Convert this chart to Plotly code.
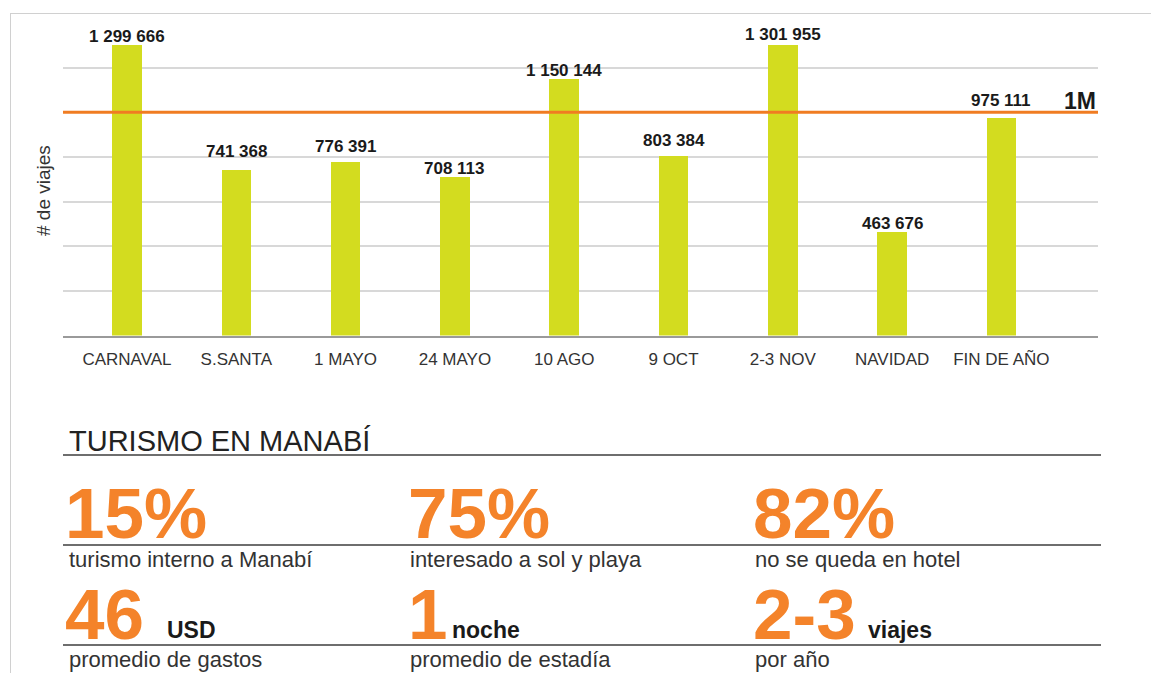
import plotly.graph_objects as go

# ---- data -------------------------------------------------------------
holidays = ["CARNAVAL", "S.SANTA", "1 MAYO", "24 MAYO", "10 AGO",
            "9 OCT", "2-3 NOV", "NAVIDAD", "FIN DE AÑO"]
trips = [1299666, 741368, 776391, 708113, 1150144,
         803384, 1301955, 463676, 975111]
reference_level = 1_000_000
reference_label = "1M"
grid_values = [200_000, 400_000, 600_000, 800_000, 1_200_000]
y_title = "# de viajes"

section_title = "TURISMO EN MANABÍ"
stat_values = ["15%", "75%", "82%", "46", "1", "2-3"]
stat_units = ["", "", "", "USD", "noche", "viajes"]
stat_captions = ["turismo interno a Manabí", "interesado a sol y playa",
                 "no se queda en hotel", "promedio de gastos",
                 "promedio de estadía", "por año"]

# ---- styling ----------------------------------------------------------
W, H = 1151, 673
BAR_COLOR = "#d3dc1f"
ORANGE_LINE = "#f07c22"
ORANGE_TEXT = "#f4832a"
FONT = "Liberation Sans, Arial, sans-serif"

# gap (px) between each value label and the top of its bar
label_gap_px = [3, 13, 10, 3, 2, 10, 4, 3, 11]


def px_x(px):
    return px / W


def px_y(py):
    return 1 - py / H


# plot area in pixels
PLOT_L, PLOT_R = 63, 1098
PLOT_T, PLOT_B = 20, 335.5
VALUE_PER_PX = 4480
first_center, step = 127, 109.3

fig = go.Figure()

fig.add_trace(go.Bar(
    x=holidays, y=trips, width=0.27,
    marker=dict(color=BAR_COLOR, line=dict(width=0)),
    hoverinfo="x+y", showlegend=False,
))

annotations = []
for name, val, gap in zip(holidays, trips, label_gap_px):
    annotations.append(dict(
        x=name, y=val, xref="x", yref="y",
        text=f"{val:,}".replace(",", " "),
        showarrow=False, yanchor="middle", xanchor="center",
        yshift=gap + 6,
        font=dict(family=FONT, size=17, color="#1a1a1a", weight="bold"),
    ))

# reference line label
annotations.append(dict(
    x=1, xref="x domain", y=reference_level, yref="y",
    text=reference_label, showarrow=False,
    xanchor="right", yanchor="middle", yshift=11.5,
    font=dict(family=FONT, size=23, color="#1a1a1a", weight="bold"),
))

# y axis title
annotations.append(dict(
    x=px_x(43), y=px_y(191), xref="paper", yref="paper",
    text=y_title, textangle=-90, showarrow=False,
    xanchor="center", yanchor="middle",
    font=dict(family=FONT, size=19, color="#333333"),
))

# ---- summary section --------------------------------------------------
annotations.append(dict(
    x=px_x(66.5), y=px_y(441), xref="paper", yref="paper",
    text=section_title, showarrow=False, xanchor="left", yanchor="middle",
    font=dict(family=FONT, size=29, color="#222222"),
))

big_x = [64, 407, 752]
caption_x = [67.5, 408.5, 753.5]
big_y = [513, 614]
caption_y = [559, 659]
unit_x = [165, 450, 866]
unit_y = [630, 630]

for i, (val, unit, cap) in enumerate(zip(stat_values, stat_units, stat_captions)):
    col, row = i % 3, i // 3
    # the box is trimmed to the digits' height so it does not spill over
    # the rule and caption underneath
    annotations.append(dict(
        x=px_x(big_x[col]), y=px_y(big_y[row]), xref="paper", yref="paper",
        text=val, showarrow=False, xanchor="left", yanchor="middle",
        borderpad=0, height=58, valign="middle",
        font=dict(family=FONT, size=71, color=ORANGE_TEXT, weight="bold"),
    ))
    if unit:
        annotations.append(dict(
            x=px_x(unit_x[col]), y=px_y(unit_y[row]), xref="paper", yref="paper",
            text=unit, showarrow=False, xanchor="left", yanchor="middle",
            font=dict(family=FONT, size=23, color="#1a1a1a", weight="bold"),
        ))
    annotations.append(dict(
        x=px_x(caption_x[col]), y=px_y(caption_y[row]), xref="paper", yref="paper",
        text=cap, showarrow=False, xanchor="left", yanchor="middle",
        borderpad=0,
        font=dict(family=FONT, size=22, color="#333333"),
    ))

shapes = [
    # 1M reference line
    dict(type="line", xref="x domain", yref="y", x0=0, x1=1,
         y0=reference_level, y1=reference_level,
         line=dict(color=ORANGE_LINE, width=3)),
    # outer frame (top and left edges)
    dict(type="line", xref="paper", yref="paper",
         x0=px_x(10), x1=1, y0=px_y(13.5), y1=px_y(13.5),
         line=dict(color="#d0d0d0", width=1)),
    dict(type="line", xref="paper", yref="paper",
         x0=px_x(10.5), x1=px_x(10.5), y0=px_y(13.5), y1=0,
         line=dict(color="#d0d0d0", width=1)),
]
# rules under the heading and each row of figures
for py in [455, 545, 645]:
    shapes.append(dict(type="line", xref="paper", yref="paper",
                       x0=px_x(63), x1=px_x(1101), y0=px_y(py), y1=px_y(py),
                       line=dict(color="#6e6e6e", width=2)))

x_lo = -(first_center - PLOT_L) / step
x_hi = (PLOT_R - first_center) / step

fig.update_layout(
    width=W, height=H,
    margin=dict(l=0, r=0, t=0, b=0),
    paper_bgcolor="white", plot_bgcolor="white",
    font=dict(family=FONT),
    annotations=annotations, shapes=shapes,
    bargap=0.0,
    xaxis=dict(
        domain=[px_x(PLOT_L), px_x(PLOT_R)],
        range=[x_lo, x_hi], type="category",
        showgrid=False, zeroline=False,
        showline=True, linecolor="#9a9a9a", linewidth=1.5,
        ticks="outside", ticklen=7, tickcolor="rgba(0,0,0,0)",
        tickfont=dict(family=FONT, size=17, color="#333333"),
        fixedrange=True,
    ),
    yaxis=dict(
        domain=[px_y(PLOT_B), px_y(PLOT_T)],
        range=[0, (PLOT_B - PLOT_T) * VALUE_PER_PX],
        tickvals=grid_values, showticklabels=False,
        showgrid=True, gridcolor="#d8d8d8", gridwidth=1.5,
        zeroline=False, showline=False, ticks="",
        fixedrange=True,
    ),
)

fig.write_html("out.html")
